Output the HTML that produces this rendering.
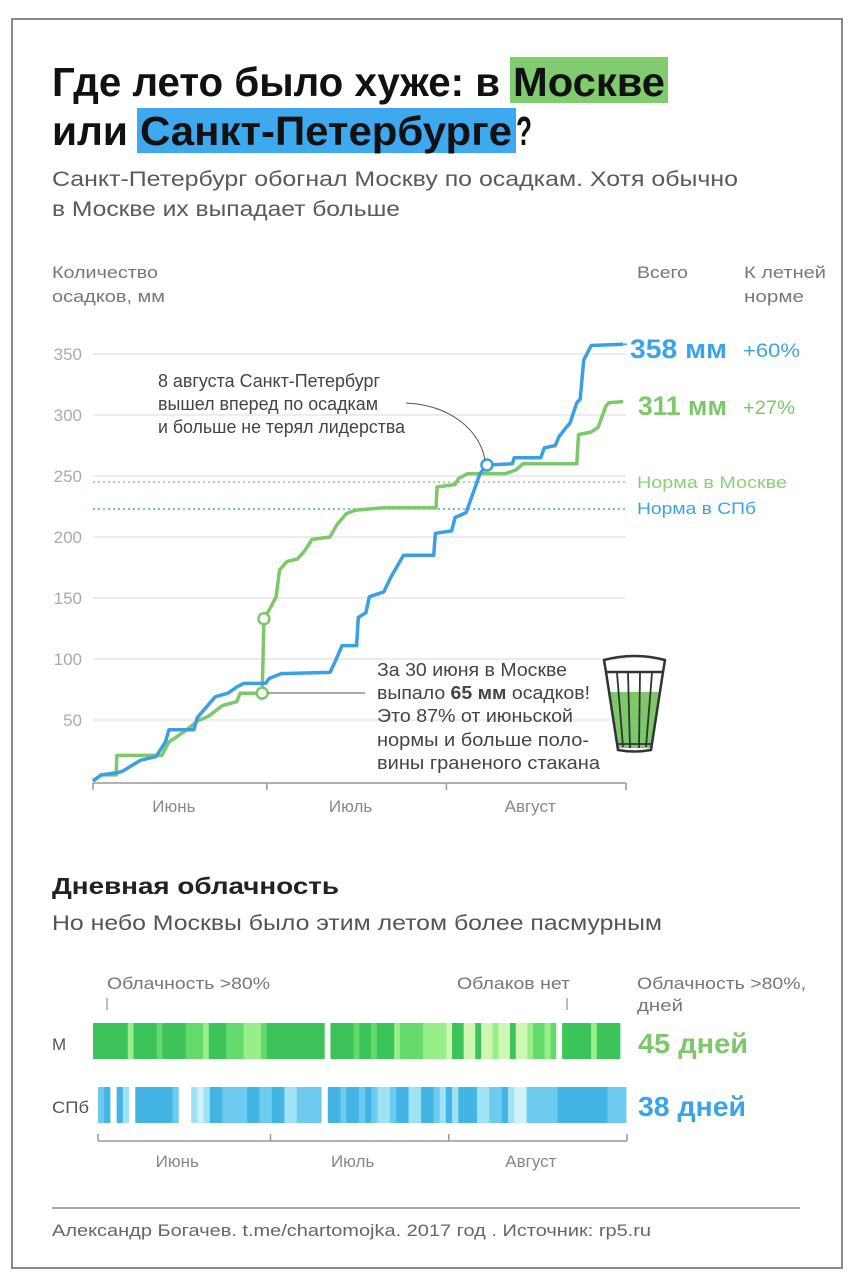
<!DOCTYPE html>
<html><head><meta charset="utf-8"><style>
html,body{margin:0;padding:0;background:#fff;}
svg{display:block;font-family:"Liberation Sans","Noto Sans CJK SC",sans-serif;}
</style></head><body>
<svg id="root" width="856" height="1280" viewBox="0 0 856 1280" xmlns="http://www.w3.org/2000/svg">
<rect x="12" y="19" width="830" height="1249" fill="#fff" stroke="#8a8a8a" stroke-width="2"/>
<rect x="510" y="57" width="158" height="46" fill="#80cc6e"/>
<rect x="137" y="108" width="379" height="45" fill="#3fa9f0"/>
<g font-weight="bold" font-size="41" fill="#111">
<text x="52" y="96" textLength="448" lengthAdjust="spacingAndGlyphs">Где лето было хуже: в</text>
<text x="513" y="96" textLength="152" lengthAdjust="spacingAndGlyphs">Москве</text>
<text x="52" y="145" textLength="76" lengthAdjust="spacingAndGlyphs">или</text>
<text x="140" y="145" textLength="372" lengthAdjust="spacingAndGlyphs">Санкт-Петербурге</text>
<text x="516" y="145" textLength="16" lengthAdjust="spacingAndGlyphs">?</text>
</g>
<g font-size="21" fill="#5a5a5a">
<text x="52" y="186" textLength="686" lengthAdjust="spacingAndGlyphs">Санкт-Петербург обогнал Москву по осадкам. Хотя обычно</text>
<text x="52" y="216" textLength="348" lengthAdjust="spacingAndGlyphs">в Москве их выпадает больше</text>
</g>
<g font-size="17" fill="#777">
<text x="52" y="278" textLength="106" lengthAdjust="spacingAndGlyphs">Количество</text>
<text x="52" y="302" textLength="113" lengthAdjust="spacingAndGlyphs">осадков, мм</text>
<text x="637" y="278" textLength="51" lengthAdjust="spacingAndGlyphs">Всего</text>
<text x="744" y="278" textLength="82" lengthAdjust="spacingAndGlyphs">К летней</text>
<text x="744" y="302" textLength="60" lengthAdjust="spacingAndGlyphs">норме</text>
</g>
<g id="chart"></g>
<text x="630" y="358" font-size="27" font-weight="bold" fill="#3ba3e8" textLength="97" lengthAdjust="spacingAndGlyphs">358 мм</text>
<text x="743" y="357" font-size="19" fill="#3ba3e8" textLength="57" lengthAdjust="spacingAndGlyphs">+60%</text>
<text x="638" y="415" font-size="27" font-weight="bold" fill="#7cc86a" textLength="89" lengthAdjust="spacingAndGlyphs">311 мм</text>
<text x="743" y="414" font-size="19" fill="#7cc86a" textLength="52" lengthAdjust="spacingAndGlyphs">+27%</text>
<text x="637" y="488" font-size="17" fill="#8ccf78" textLength="150" lengthAdjust="spacingAndGlyphs">Норма в Москве</text>
<text x="637" y="514" font-size="17" fill="#3ba3e8" textLength="119" lengthAdjust="spacingAndGlyphs">Норма в СПб</text>
<g font-size="18" fill="#444">
<text x="158" y="387" textLength="222" lengthAdjust="spacingAndGlyphs">8 августа Санкт-Петербург</text>
<text x="158" y="410" textLength="220" lengthAdjust="spacingAndGlyphs">вышел вперед по осадкам</text>
<text x="158" y="433" textLength="247" lengthAdjust="spacingAndGlyphs">и больше не терял лидерства</text>
</g>
<path d="M406,403 C450,405 480,430 485,460" fill="none" stroke="#555" stroke-width="1"/>
<g font-size="18" fill="#444">
<text x="377" y="676" textLength="190" lengthAdjust="spacingAndGlyphs">За 30 июня в Москве</text>
<text x="377" y="699" textLength="213" lengthAdjust="spacingAndGlyphs">выпало <tspan font-weight="bold">65 мм</tspan> осадков!</text>
<text x="377" y="722" textLength="196" lengthAdjust="spacingAndGlyphs">Это 87% от июньской</text>
<text x="377" y="746" textLength="212" lengthAdjust="spacingAndGlyphs">нормы и больше поло-</text>
<text x="377" y="769" textLength="223" lengthAdjust="spacingAndGlyphs">вины граненого стакана</text>
</g>
<line x1="268" y1="693" x2="365" y2="693" stroke="#555" stroke-width="1"/>
<g stroke="#333" stroke-width="2.5" fill="none">
<path d="M610,692 L618,748 L651,748 L659,692 Z" fill="#7cc86a" stroke="none"/>
<path d="M604,660 Q634,652 665,660 L663,672 L651,750 Q634,753 618,750 L606,672 Z" stroke-linejoin="round"/>
<line x1="606" y1="672" x2="663" y2="672"/>
<line x1="617" y1="673" x2="623" y2="747" stroke-width="1.8"/>
<line x1="628" y1="673" x2="630" y2="748" stroke-width="1.8"/>
<line x1="640" y1="673" x2="639" y2="748" stroke-width="1.8"/>
<line x1="652" y1="673" x2="646" y2="747" stroke-width="1.8"/>
<line x1="618" y1="744" x2="651" y2="744" stroke-width="1.8"/>
</g>
<text x="52" y="894" font-size="23" font-weight="bold" fill="#222" textLength="287" lengthAdjust="spacingAndGlyphs">Дневная облачность</text>
<text x="52" y="930" font-size="21" fill="#555" textLength="610" lengthAdjust="spacingAndGlyphs">Но небо Москвы было этим летом более пасмурным</text>
<g font-size="17" fill="#777">
<text x="107" y="989" textLength="163" lengthAdjust="spacingAndGlyphs">Облачность &gt;80%</text>
<text x="457" y="989" textLength="113" lengthAdjust="spacingAndGlyphs">Облаков нет</text>
<text x="637" y="989" textLength="169" lengthAdjust="spacingAndGlyphs">Облачность &gt;80%,</text>
<text x="637" y="1011" textLength="46" lengthAdjust="spacingAndGlyphs">дней</text>
<text x="52" y="1050" fill="#555">М</text>
<text x="52" y="1113" fill="#555" textLength="37" lengthAdjust="spacingAndGlyphs">СПб</text>
</g>
<line x1="107" y1="998" x2="107" y2="1010" stroke="#777"/>
<line x1="567" y1="998" x2="567" y2="1010" stroke="#777"/>
<g id="clouds"></g>
<text x="638" y="1053" font-size="28" font-weight="bold" fill="#7cc86a" textLength="110" lengthAdjust="spacingAndGlyphs">45 дней</text>
<text x="638" y="1116" font-size="28" font-weight="bold" fill="#3ba3e8" textLength="108" lengthAdjust="spacingAndGlyphs">38 дней</text>
<line x1="52" y1="1208" x2="800" y2="1208" stroke="#aaa" stroke-width="2"/>
<text x="52" y="1236" font-size="17" fill="#666" textLength="599" lengthAdjust="spacingAndGlyphs">Александр Богачев. t.me/chartomojka. 2017 год . Источник: rp5.ru</text>
</svg>
<script>
const NS="http://www.w3.org/2000/svg";
const yTicks=[50,100,150,200,250,300,350];
const monthLabels=["Июнь","Июль","Август"];
const monthStartDays=[0,30,61,92];
const normMoscow=245;
const normSpb=223;
const moscowDays=[0,1.4,4,4.1,11.9,13.1,15.6,18,19.9,22.4,24.8,25.4,29.2,29.5,30.4,31.6,32.2,33.5,35.3,36.6,37.8,40.9,42.1,43.7,45.2,50.2,59.2,59.4,62.5,63.1,64.7,71.2,73,74.2,83.5,83.8,86,87.2,88.5,89,91.5];
const moscowValues=[0,5,5,21,21,32,40,49,53,62,65,72,72,133,140,151,173,180,182,189,198,200,210,219,222,224,224,241,243,248,252,252,255,260,260,284,286,290,307,310,311];
const spbDays=[0,1.4,4.4,5.1,8.2,10.9,12.5,13.1,17.4,18,21.1,23.3,24.8,26,29.8,30.4,32.5,40.9,41.8,43,45.5,45.8,47.1,47.7,50.2,51.4,53.6,58.8,59.1,61.9,62.5,64.4,65,66.8,68,72.4,72.7,77.3,77.9,79.8,80.4,81.7,82.3,83.5,84.1,84.7,86,91.5];
const spbValues=[0,5,7,8,17,20,32,42,42,52,69,72,77,80,80,84,88,89,98,111,111,134,138,151,155,167,185,185,203,205,216,220,228,252,259,260,265,265,273,275,282,290,293,310,313,345,357,358];
const marker1=[29.2,72];
const marker2=[29.5,133];
const marker3=[68,259];
const moscowClouds=[4,4,4,4,4,4,2,4,4,4,4,3,4,4,4,4,3,3,3,2,4,4,4,3,3,3,2,2,2,3,4,4,4,4,4,4,4,4,4,4,0,4,4,4,4,3,4,4,3,4,4,4,2,3,3,3,3,2,2,2,2,1,4,4,1,1,4,1,1,2,1,1,4,1,1,2,3,3,2,3,0,4,4,4,4,4,2,4,4,4,4];
const spbClouds=[3,4,0,4,2,0,4,4,4,4,4,4,3,0,0,2,1,2,4,4,3,3,3,3,4,4,3,3,4,4,2,2,3,3,3,3,0,4,4,3,4,4,3,4,3,2,2,3,4,4,2,2,4,4,3,2,4,2,4,4,4,2,2,3,3,4,2,1,1,3,3,3,3,3,4,4,4,4,4,4,4,4,3,3,3];
const greenPal=["#ffffff","#cdf7b2","#98ee88","#66d96d","#3cc45b"];
const bluePal=["#ffffff","#cdf3f8","#9ee2f4","#6ccbee","#44b4e4"];

const X0=93,X1=626,Y0=781,PX=1.22;
const xs=d=>X0+d*(X1-X0)/92;
const ys=v=>Y0-v*PX;
const chart=document.getElementById('chart');
function mk(tag,attrs,parent){const e=document.createElementNS(NS,tag);for(const k in attrs)e.setAttribute(k,attrs[k]);(parent||chart).appendChild(e);return e;}

yTicks.forEach(t=>{
  const g=mk('line',{x1:X0,x2:X1,y1:ys(t),y2:ys(t),stroke:'#e6e6e6','stroke-width':1.5});
  
  
  const l=mk('text',{x:82,y:ys(t)+6,'text-anchor':'end','font-size':17,fill:'#aaa'});
  l.textContent=t;
  
  
});
const n1=mk('line',{x1:X0,x2:X1,y1:ys(normMoscow),y2:ys(normMoscow),stroke:'#8ccf78','stroke-width':1.5,'stroke-dasharray':'2,3'});


const n2=mk('line',{x1:X0,x2:X1,y1:ys(normSpb),y2:ys(normSpb),stroke:'#3ba3e8','stroke-width':1.5,'stroke-dasharray':'2,3'});


const ax=mk('line',{x1:X0,x2:X1,y1:Y0+2,y2:Y0+2,stroke:'#999','stroke-width':1.5});


monthStartDays.forEach((d,i)=>{
  const t=mk('line',{x1:xs(d),x2:xs(d),y1:Y0+2,y2:Y0+9,stroke:'#999','stroke-width':1.5});
  
  
  if(i<monthLabels.length){
    const l=mk('text',{x:(xs(d)+xs(monthStartDays[i+1]))/2-6,y:812,'text-anchor':'middle','font-size':17,fill:'#888'});
    l.textContent=monthLabels[i];
    
    
  }
});
function line(days,vals,color,name){
  const pts=days.map((d,i)=>xs(d).toFixed(1)+','+ys(vals[i]).toFixed(1)).join(' ');
  const p=mk('polyline',{points:pts,fill:'none',stroke:color,'stroke-width':3.5,'stroke-linejoin':'round'});
  
  
}
line(moscowDays,moscowValues,'#7cc86a','moscow-line');
line(spbDays,spbValues,'#3b9fe6','spb-line');
const lead1=mk('line',{x1:xs(91.5),x2:627,y1:ys(358),y2:ys(358),stroke:'#3b9fe6','stroke-width':1.5});


[[marker1,'#7cc86a','moscow-jun29-marker'],[marker2,'#7cc86a','moscow-jun30-marker'],[marker3,'#3b9fe6','spb-aug8-marker']].forEach(m=>{
  const c=mk('circle',{cx:xs(m[0][0]),cy:ys(m[0][1]),r:5.5,fill:'#fff',stroke:m[1],'stroke-width':2.5});
  
  
});

const clouds=document.getElementById('clouds');
function strip(arr,pal,x0,x1,y,h,name){
  const w=(x1-x0)/arr.length;
  arr.forEach((v,i)=>{
    const r=mk('rect',{x:(x0+i*w).toFixed(2),y:y,width:(w+0.4).toFixed(2),height:h,fill:pal[v]},clouds);
    
    
  });
}
strip(moscowClouds,greenPal,93,620,1023,36,'moscow-cloud');
strip(spbClouds,bluePal,98,626,1087,36,'spb-cloud');
const cax=mk('line',{x1:98,x2:627,y1:1141,y2:1141,stroke:'#999','stroke-width':1.5},clouds);


const cx=d=>98+d*(627-98)/92;
monthStartDays.forEach((d,i)=>{
  const t=mk('line',{x1:cx(d),x2:cx(d),y1:1134,y2:1141,stroke:'#999','stroke-width':1.5},clouds);
  
  
  if(i<monthLabels.length){
    const l=mk('text',{x:(cx(d)+cx(monthStartDays[i+1]))/2-7,y:1167,'text-anchor':'middle','font-size':17,fill:'#888'},clouds);
    l.textContent=monthLabels[i];
    
    
  }
});
</script>
</body></html>
